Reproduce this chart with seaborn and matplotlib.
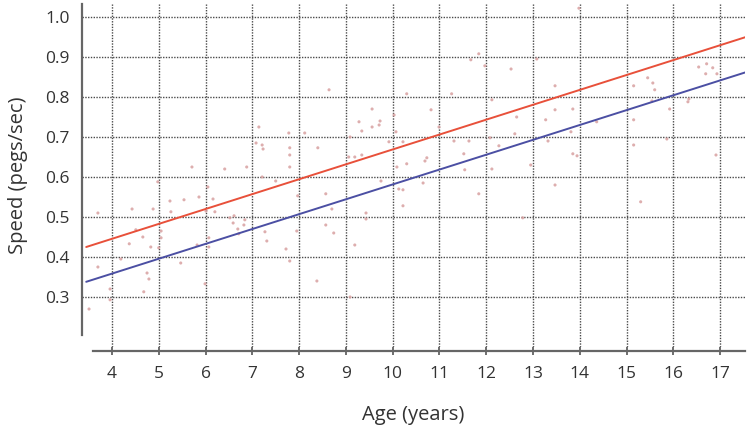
import matplotlib
matplotlib.use("Agg")
import matplotlib.pyplot as plt
import seaborn as sns
import pandas as pd

# ---- data ----
age = [3.51, 3.70, 3.70, 3.96, 3.96, 4.19, 4.37, 4.43, 4.51, 4.66, 4.75, 4.79, 4.68, 4.88, 4.83,
       4.98, 5.00, 5.05, 5.05, 5.24, 5.26, 5.47, 5.54, 5.71, 5.82, 5.86, 5.99, 6.01, 6.05, 6.07,
       6.07, 6.16, 6.20, 6.41, 6.52, 6.59, 6.61, 6.69, 6.71, 6.82, 6.84, 6.88,
       7.08, 7.14, 7.21, 7.23, 7.21, 7.27, 7.31, 7.50, 7.72, 7.78, 7.80, 7.80, 7.80, 7.80,
       7.95, 7.97, 8.12, 8.38, 8.40, 8.57, 8.57, 8.64, 8.70, 8.74, 9.06, 9.09, 9.09, 9.19,
       9.19, 9.28, 9.34, 9.34, 9.43, 9.43, 9.56, 9.56, 9.73, 9.71, 9.75, 9.92, 10.03, 10.07,
       10.09, 10.13, 10.22, 10.22, 10.22, 10.30, 10.30,
       10.65, 10.69, 10.73, 10.82, 10.99, 11.26, 11.31, 11.52, 11.54, 11.63, 11.67, 11.84,
       11.84, 11.97, 12.08, 12.12, 12.12, 12.27, 12.53, 12.61, 12.65, 12.78, 12.95, 13.08,
       13.27, 13.32, 13.47, 13.47, 13.47, 13.81, 13.85, 13.85, 13.94, 13.98,
       14.36, 15.15, 15.15, 15.15, 15.30, 15.45, 15.54, 15.56, 15.60, 15.86, 15.92, 16.31,
       16.33, 16.54, 16.71, 16.84, 16.69, 16.93, 16.91]
speed = [0.270, 0.510, 0.375, 0.320, 0.293, 0.395, 0.433, 0.520, 0.468, 0.450, 0.360, 0.345, 0.313, 0.520, 0.425,
         0.588, 0.423, 0.465, 0.448, 0.540, 0.513, 0.385, 0.543, 0.625, 0.430, 0.550, 0.333, 0.515, 0.575, 0.448,
         0.425, 0.545, 0.513, 0.620, 0.498, 0.485, 0.503, 0.470, 0.458, 0.480, 0.493, 0.625,
         0.685, 0.725, 0.680, 0.670, 0.600, 0.463, 0.440, 0.590, 0.420, 0.710, 0.673, 0.655, 0.625, 0.390,
         0.465, 0.553, 0.710, 0.340, 0.673, 0.558, 0.480, 0.818, 0.520, 0.460, 0.650, 0.700, 0.300, 0.650,
         0.430, 0.738, 0.715, 0.655, 0.510, 0.495, 0.770, 0.725, 0.740, 0.730, 0.590, 0.688, 0.755, 0.713,
         0.625, 0.570, 0.568, 0.528, 0.688, 0.808, 0.633,
         0.585, 0.640, 0.648, 0.768, 0.725, 0.808, 0.690, 0.658, 0.618, 0.690, 0.893, 0.908,
         0.558, 0.878, 0.698, 0.793, 0.620, 0.678, 0.870, 0.708, 0.750, 0.498, 0.630, 0.895,
         0.743, 0.690, 0.828, 0.768, 0.580, 0.713, 0.770, 0.658, 0.653, 1.022,
         0.738, 0.828, 0.743, 0.680, 0.538, 0.848, 0.790, 0.835, 0.818, 0.695, 0.770, 0.788,
         0.795, 0.875, 0.883, 0.873, 0.858, 0.858, 0.655]

line_age = [3.45, 17.55]
upper_speed = [0.425, 0.950]
lower_speed = [0.338, 0.862]

x_ticks = list(range(4, 18))
y_ticks = [0.3, 0.4, 0.5, 0.6, 0.7, 0.8, 0.9, 1.0]

# ---- plotting ----
sns.set_theme(style="white")
plt.rcParams["font.family"] = ["Open Sans", "DejaVu Sans"]

fig = plt.figure(figsize=(7.5, 4.25), dpi=100)
ax = fig.add_axes([82 / 750, 1 - 347 / 425, 663 / 750, 343 / 425])

# spines first (repositioning resets ticks)
for s in ["top", "right"]:
    ax.spines[s].set_visible(False)
for s in ["left", "bottom"]:
    ax.spines[s].set_color("#666666")
    ax.spines[s].set_linewidth(1.6)
ax.spines["bottom"].set_position(("outward", 3))

pts = pd.DataFrame({"age": age, "speed": speed})
sns.scatterplot(data=pts, x="age", y="speed", ax=ax, s=5, color="#d8a0a0",
                edgecolor="none", alpha=0.85, zorder=3)

lines = pd.DataFrame({"age": line_age + line_age,
                      "speed": upper_speed + lower_speed,
                      "curve": ["upper"] * 2 + ["lower"] * 2})
sns.lineplot(data=lines, x="age", y="speed", hue="curve",
             palette={"upper": "#e8503a", "lower": "#4b4fa3"},
             linewidth=1.4, ax=ax, legend=False, zorder=4)

ax.set_xlim(3.36, 17.53)
ax.set_ylim(0.175, 1.0325)
ax.set_xticks(x_ticks)
ax.set_yticks(y_ticks)
ax.set_xticklabels([str(t) for t in x_ticks])
ax.set_yticklabels([f"{t:.1f}" for t in y_ticks])

ax.spines["bottom"].set_bounds(3.6, 17.53)
ax.spines["left"].set_bounds(0.205, 1.0325)

ax.tick_params(axis="x", direction="inout", length=6, width=1.2, color="#555555",
               labelsize=12.5, labelcolor="#333333", pad=8, bottom=True)
ax.tick_params(axis="y", length=0, labelsize=12.5, labelcolor="#333333", pad=9)

ax.set_xlabel("Age (years)", fontsize=14.5, color="#333333", labelpad=16)
ax.set_ylabel("Speed (pegs/sec)", fontsize=14.5, color="#333333", labelpad=12)

ax.set_axisbelow(True)
for axis in (ax.xaxis, ax.yaxis):
    axis.grid(True, which="major", color="#4a4a4a", linestyle=(0, (1, 1)), linewidth=1.0)

fig.savefig("out.png", dpi=100)
